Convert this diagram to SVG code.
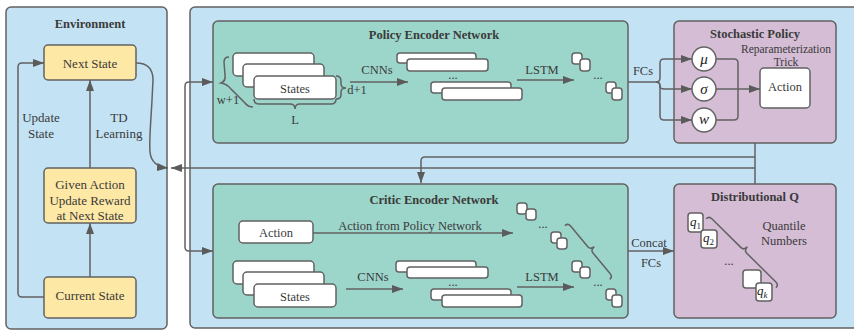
<svg xmlns="http://www.w3.org/2000/svg" width="854" height="330" viewBox="0 0 854 330">
<defs>
  <marker id="arr" viewBox="0 0 11 8" refX="11" refY="4" markerWidth="11" markerHeight="8" markerUnits="userSpaceOnUse" orient="auto">
    <path d="M0,0 L11,4 L0,8 z" fill="#5b5b5b"/>
  </marker>
</defs>
<style>
  .panel{fill:#c3e3f5;stroke:#626262;stroke-width:1.5}
  .teal{fill:#9cd5ca;stroke:#626262;stroke-width:1.5}
  .mauve{fill:#d4bdd5;stroke:#626262;stroke-width:1.5}
  .yellow{fill:#fee8a5;stroke:#626262;stroke-width:1.5}
  .wbox{fill:#fff;stroke:#626262;stroke-width:1.5}
  .ln{fill:none;stroke:#626262;stroke-width:1.5}
  .arrow{fill:none;stroke:#626262;stroke-width:1.5;marker-end:url(#arr)}
  .t{font-family:"Liberation Serif","Times New Roman",serif;font-size:12.5px;fill:#3a3a3a;text-anchor:middle}
  .env{font-size:13px}
  .b{font-weight:bold}
  .sm{font-size:11.5px}
  .m{font-family:"Liberation Serif","Times New Roman",serif;font-style:italic;font-size:15px;fill:#222;text-anchor:middle}
  .q{font-family:"Liberation Serif","Times New Roman",serif;font-style:italic;font-size:13px;fill:#222}
</style>

<!-- Panels -->
<g id="environment">
  <rect x="6" y="7" width="161" height="322" rx="5" class="panel"/>
  <text x="90" y="28" class="t b">Environment</text>
</g>
<g id="agent">
  <rect x="190" y="7" width="680" height="321" rx="5" class="panel"/>
</g>

<g id="next-state">
  <rect x="44" y="45" width="92" height="35" rx="4" class="yellow"/>
  <text x="90" y="67.5" class="t env">Next State</text>
</g>
<g id="reward">
  <rect x="44" y="168" width="92" height="55" rx="4" class="yellow"/>
  <text x="90" y="188.5" class="t env">Given Action</text>
  <text x="90" y="204.5" class="t env">Update Reward</text>
  <text x="90" y="219.5" class="t env">at Next State</text>
</g>
<g id="current-state">
  <rect x="44" y="277" width="92" height="41" rx="4" class="yellow"/>
  <text x="90" y="299.5" class="t env">Current State</text>
</g>
<g id="env-labels">
  <text x="41" y="122" class="t env">Update</text>
  <text x="41" y="138" class="t env">State</text>
  <text x="119" y="122" class="t env">TD</text>
  <text x="119" y="138" class="t env">Learning</text>
</g>

<!-- Policy encoder -->
<g id="policy-encoder">
  <rect x="213" y="21" width="415" height="122" rx="5" class="teal"/>
  <text x="434" y="39" class="t b">Policy Encoder Network</text>
  <rect x="233" y="53" width="81" height="23" rx="4" class="wbox"/>
  <rect x="243" y="64" width="81" height="23" rx="4" class="wbox"/>
  <rect x="254" y="76" width="82" height="23" rx="4" class="wbox"/>
  <text x="295" y="92.5" class="t">States</text>
  <path class="ln" d="M229,57 Q224,57 224,62 L225,75 Q226,81 221,83 Q227,84 231,89 L245,103 Q248,107 253,107"/>
  <text x="228" y="104" class="t">w+1</text>
  <path class="ln" d="M336,76 Q341,76 341,81 L341,84 Q341,88 346,88 Q341,88 341,92 L341,95 Q341,99 336,99"/>
  <text x="357" y="94" class="t">d+1</text>
  <path class="ln" d="M254,99 Q254,104 259,104 L290,104 Q295,104 295,109 Q295,104 300,104 L331,104 Q336,104 336,99"/>
  <text x="295" y="124" class="t">L</text>
  <text x="377" y="74" class="t">CNNs</text>
  <path class="arrow" d="M350,82 L408,82"/>
  <rect x="397" y="53" width="79" height="10" rx="3" class="wbox"/>
  <rect x="407" y="59" width="81" height="12" rx="3" class="wbox"/>
  <text x="453" y="79" class="t">...</text>
  <rect x="431" y="82" width="80" height="11" rx="3" class="wbox"/>
  <rect x="442" y="88" width="80" height="12" rx="3" class="wbox"/>
  <text x="542" y="74" class="t">LSTM</text>
  <path class="arrow" d="M517,80 L574,80"/>
  <rect x="572" y="53" width="10" height="11" rx="3" class="wbox"/>
  <rect x="580" y="59" width="10" height="12" rx="3" class="wbox"/>
  <text x="598" y="79" class="t">...</text>
  <rect x="606" y="82" width="10" height="11" rx="3" class="wbox"/>
  <rect x="612" y="88" width="10" height="12" rx="3" class="wbox"/>
</g>

<!-- Stochastic policy -->
<g id="stochastic-policy">
  <rect x="674" y="21" width="162" height="122" rx="5" class="mauve"/>
  <text x="755" y="38" class="t b">Stochastic Policy</text>
  <text x="786" y="53" class="t sm">Reparameterization</text>
  <text x="786" y="66" class="t sm">Trick</text>
  <circle cx="704" cy="59" r="12" class="wbox"/>
  <text x="704" y="64" class="m">μ</text>
  <circle cx="704" cy="89" r="12" class="wbox"/>
  <text x="704" y="94" class="m">σ</text>
  <circle cx="704" cy="120" r="12" class="wbox"/>
  <text x="704" y="124" class="m">w</text>
  <rect x="760" y="68" width="50" height="40" rx="4" class="wbox"/>
  <text x="785" y="90.5" class="t">Action</text>
  <path class="ln" d="M716,59 L734,59 Q738,59 738,63 L738,89"/>
  <path class="ln" d="M716,120 L734,120 Q738,120 738,116 L738,89"/>
  <path class="arrow" d="M716,89 L760,89"/>
</g>

<!-- Critic encoder -->
<g id="critic-encoder">
  <rect x="213" y="184" width="415" height="134" rx="5" class="teal"/>
  <text x="434" y="204" class="t b">Critic Encoder Network</text>
  <rect x="239" y="221" width="74" height="22" rx="4" class="wbox"/>
  <text x="276" y="236.5" class="t">Action</text>
  <text x="410" y="229.5" class="t">Action from Policy Network</text>
  <path class="arrow" d="M313,233 L513,233"/>
  <rect x="233" y="261" width="81" height="23" rx="4" class="wbox"/>
  <rect x="243" y="272" width="81" height="23" rx="4" class="wbox"/>
  <rect x="254" y="284" width="82" height="23" rx="4" class="wbox"/>
  <text x="295" y="300.5" class="t">States</text>
  <text x="373" y="281" class="t">CNNs</text>
  <path class="arrow" d="M346,289 L403,289"/>
  <rect x="396" y="261" width="80" height="11" rx="3" class="wbox"/>
  <rect x="407" y="267" width="81" height="11" rx="3" class="wbox"/>
  <text x="453" y="286" class="t">...</text>
  <rect x="431" y="289" width="80" height="11" rx="3" class="wbox"/>
  <rect x="442" y="295" width="80" height="12" rx="3" class="wbox"/>
  <text x="542" y="281" class="t">LSTM</text>
  <path class="arrow" d="M517,287 L574,287"/>
  <rect x="517" y="203" width="10" height="11" rx="3" class="wbox"/>
  <rect x="526" y="209" width="10" height="11" rx="3" class="wbox"/>
  <text x="543" y="228" class="t">...</text>
  <rect x="551" y="232" width="10" height="11" rx="3" class="wbox"/>
  <rect x="557" y="238" width="10" height="11" rx="3" class="wbox"/>
  <rect x="572" y="261" width="10" height="11" rx="3" class="wbox"/>
  <rect x="580" y="267" width="10" height="11" rx="3" class="wbox"/>
  <text x="598" y="286" class="t">...</text>
  <rect x="606" y="289" width="10" height="11" rx="3" class="wbox"/>
  <rect x="612" y="295" width="10" height="12" rx="3" class="wbox"/>
  <path class="ln" transform="translate(568,223) rotate(50.2)" d="M0,4 Q0,0 4,0 L31,0 Q35,0 35,-5 Q35,0 39,0 L66,0 Q70,0 70,4"/>
</g>

<!-- Distributional Q -->
<g id="distributional-q">
  <rect x="674" y="184" width="162" height="134" rx="5" class="mauve"/>
  <text x="755" y="200.5" class="t b">Distributional Q</text>
  <rect x="688" y="213" width="15" height="19" rx="3" class="wbox"/>
  <text x="690" y="226" class="q">q<tspan font-size="9" dy="3" font-style="normal">1</tspan></text>
  <rect x="701" y="230" width="16" height="18" rx="3" class="wbox"/>
  <text x="703" y="242" class="q">q<tspan font-size="9" dy="3" font-style="normal">2</tspan></text>
  <text x="729" y="265" class="t">...</text>
  <rect x="743" y="270" width="18" height="18" rx="3" class="wbox"/>
  <rect x="756" y="283" width="16" height="18" rx="3" class="wbox"/>
  <text x="757" y="295" class="q">q<tspan font-size="9" dy="3">k</tspan></text>
  <path class="ln" transform="translate(709,216) rotate(44.6)" d="M0,4 Q0,0 4,0 L45,0 Q49,0 49,-5 Q49,0 53,0 L94,0 Q98,0 98,4"/>
  <text x="784" y="230" class="t">Quantile</text>
  <text x="784" y="245" class="t">Numbers</text>
</g>

<!-- Connectors -->
<g id="connectors">
  <path class="arrow" d="M90,277 L90,223"/>
  <path class="arrow" d="M90,168 L90,80"/>
  <path class="arrow" d="M44,297 L22,297 Q18,297 18,293 L18,67 Q18,63 22,63 L44,63"/>
  <path class="arrow" d="M136,63 C146,63 153,68 153,80 L152,100 C151,120 149,140 150,152 C151,162 157,167 168,168"/>
  <path class="arrow" d="M185,168 L185,86 Q185,82 189,82 L213,82"/>
  <path class="arrow" d="M185,168 L185,247 Q185,251 189,251 L213,251"/>
  <path class="arrow" d="M755,168 L171,168"/>
  <path class="ln" d="M755,143 L755,184"/>
  <path class="arrow" d="M755,157 L425,157 Q421,157 421,161 L421,183"/>
  <path class="arrow" d="M628,82 L656,82 Q660,82 660,78 L660,63 Q660,59 664,59 L692,59"/>
  <path class="arrow" d="M656,82 Q660,82 660,86 Q660,89 664,89 L692,89"/>
  <path class="arrow" d="M656,82 Q660,82 660,86 L660,116 Q660,120 664,120 L692,120"/>
  <text x="643" y="74.5" class="t">FCs</text>
  <path class="arrow" d="M628,251 L674,251"/>
  <text x="649" y="247" class="t">Concat</text>
  <text x="651" y="266.5" class="t">FCs</text>
</g>
</svg>
